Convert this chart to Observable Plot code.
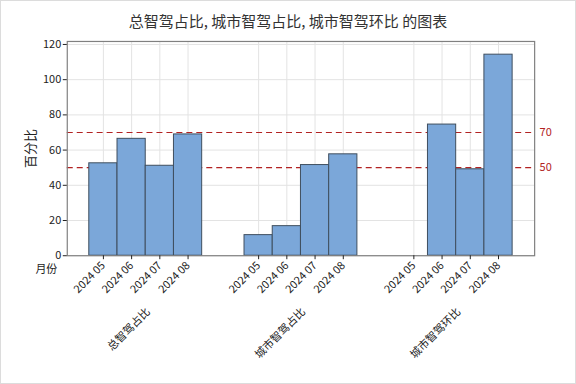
<!DOCTYPE html>
<html>
<head>
<meta charset="utf-8">
<script src="https://cdn.jsdelivr.net/npm/d3@7"></script>
<script src="https://cdn.jsdelivr.net/npm/@observablehq/plot@0.6"></script>
<style>
  html, body { margin: 0; padding: 0; background: #fff; }
  #wrap { width: 576px; height: 384px; box-sizing: border-box; border: 1px solid #dcdcdc; position: relative; overflow: hidden; }
  #title { height: 31px; padding-top: 8px; box-sizing: border-box; text-align: center; font-family: "Noto Sans CJK SC", sans-serif; font-size: 15px; line-height: 24px; color: #333; }
  svg { display: block; }
</style>
</head>
<body>
<div id="wrap">
  <div id="title">总智驾占比, 城市智驾占比, 城市智驾环比 的图表</div>
  <div id="chart"></div>
</div>
<script>
const groups = ["总智驾占比", "城市智驾占比", "城市智驾环比"];
const months = ["2024 05", "2024 06", "2024 07", "2024 08"];
const totalShare = [52.5, 66.4, 51.1, 68.9];
const cityShare = [11.7, 16.8, 51.5, 57.6];
const cityMoM = [null, 74.5, 49.1, 114.2];
const refLines = [50, 70];
const yTicks = [0, 20, 40, 60, 80, 100, 120];

const seriesValues = [totalShare, cityShare, cityMoM];
const groupStep = 5.5; // spacing of groups in bar widths

const rows = [];
const tickPos = [];
const tickLabel = new Map();
groups.forEach((g, gi) => {
  months.forEach((m, mi) => {
    const pos = gi * groupStep + mi;
    tickPos.push(pos);
    tickLabel.set(pos, m);
    const v = seriesValues[gi][mi];
    if (v != null) rows.push({group: g, month: m, pos, value: v});
  });
});
const groupCenters = groups.map((g, gi) => ({group: g, pos: gi * groupStep + (months.length - 1) / 2}));

const font = "'Noto Sans CJK SC', 'Noto Sans', sans-serif";
const red = "#b22222";

const chart = Plot.plot({
  width: 576,
  height: 351,
  marginTop: 9,
  marginLeft: 66,
  marginRight: 41,
  marginBottom: 127,
  style: {fontFamily: font, fontSize: "11px", color: "#222", background: "#fff"},
  x: {domain: [-1.28, 15.28], type: "linear"},
  y: {domain: [0, 121.7]},
  marks: [
    Plot.gridY(yTicks, {stroke: "#e3e3e3", strokeOpacity: 1}),
    Plot.gridX(tickPos, {stroke: "#e3e3e3", strokeOpacity: 1}),
    Plot.ruleY(refLines, {stroke: red, strokeWidth: 1.2, strokeDasharray: "6,4"}),
    Plot.rect(rows, {x1: d => d.pos - 0.5, x2: d => d.pos + 0.5, y1: 0, y2: "value", fill: "#7ba7d9", stroke: "#3f4e5e", strokeWidth: 1}),
    Plot.frame({stroke: "#808080", strokeWidth: 1.2}),
    Plot.axisY(yTicks, {tickSize: 4, tickPadding: 2, label: "百分比", labelAnchor: "center", labelArrow: "none", labelOffset: 42, fontSize: 11}),
    Plot.axisX(tickPos, {tickSize: 4, tickRotate: -45, tickPadding: 4, tickFormat: d => tickLabel.get(d), label: null, fontSize: 11}),
    Plot.text(groupCenters, {x: "pos", frameAnchor: "bottom", dy: 57, dx: 5, text: "group", rotate: -45, textAnchor: "end", fontSize: 11}),
    Plot.text(["月份"], {frameAnchor: "bottom-left", dx: -21, dy: 17, textAnchor: "middle", fontSize: 11}),
    Plot.text(refLines, {y: d => d, text: d => String(d), frameAnchor: "right", dx: 5, textAnchor: "start", fill: red, fontSize: 11})
  ]
});
document.getElementById("chart").appendChild(chart);
chart.querySelectorAll("g[aria-label='y-axis label'] text").forEach(t => { t.setAttribute("font-size", "13"); });
</script>
</body>
</html>
